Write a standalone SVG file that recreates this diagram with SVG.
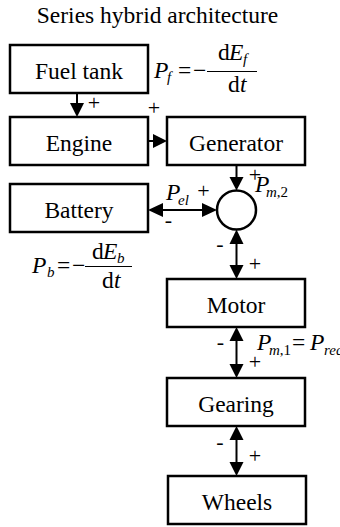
<svg xmlns="http://www.w3.org/2000/svg" width="340" height="527" viewBox="0 0 340 527" font-family="'Liberation Serif', 'Times New Roman', 'DejaVu Serif', serif">
<style>
text, tspan{font-family:'Liberation Serif','Times New Roman','DejaVu Serif',serif;fill:#000}
.box{fill:#fff;stroke:#000;stroke-width:2.5}
.lbl{font-size:23.5px;text-anchor:middle}
.sg{font-size:22px;text-anchor:middle}
.m{font-size:23.5px}
.i{font-style:italic}
.s{font-size:15px}
.ln{stroke:#000;stroke-width:2;fill:none}
.fr{stroke:#000;stroke-width:1.2;fill:none}
.ah{fill:#000;stroke:none}
</style>
<rect width="340" height="527" fill="#fff"/>
<text class="lbl" x="157.5" y="23">Series hybrid architecture</text>

<g id="fuel-tank"><rect class="box" x="10" y="45" width="138" height="48"/><text class="lbl" x="79" y="78.5">Fuel tank</text></g>
<g id="engine"><rect class="box" x="10" y="117" width="138" height="48"/><text class="lbl" x="79" y="150.5">Engine</text></g>
<g id="generator"><rect class="box" x="167" y="117" width="138" height="48"/><text class="lbl" x="236" y="150.5">Generator</text></g>
<g id="battery"><rect class="box" x="10" y="184" width="138" height="48"/><text class="lbl" x="79" y="217.5">Battery</text></g>
<g id="junction"><circle class="box" cx="236.5" cy="210" r="19.5"/></g>
<g id="motor"><rect class="box" x="167" y="279" width="138" height="48"/><text class="lbl" x="236" y="312.5">Motor</text></g>
<g id="gearing"><rect class="box" x="167" y="378" width="138" height="48"/><text class="lbl" x="236" y="411.5">Gearing</text></g>
<g id="wheels"><rect class="box" x="168" y="476" width="138" height="48"/><text class="lbl" x="237" y="509.5">Wheels</text></g>

<g id="connectors">
<line class="ln" x1="77" y1="93" x2="77" y2="104"/>
<polygon class="ah" points="77,117 70,103 84,103"/>
<line class="ln" x1="148" y1="141" x2="154" y2="141"/>
<polygon class="ah" points="167,141 153,134 153,148"/>
<line class="ln" x1="236.5" y1="165" x2="236.5" y2="178"/>
<polygon class="ah" points="236.5,190.5 229.5,177 243.5,177"/>
<line class="ln" x1="162" y1="210" x2="203" y2="210"/>
<polygon class="ah" points="148,210 163,203 163,217"/>
<polygon class="ah" points="217,210 202,203 202,217"/>
<line class="ln" x1="236.5" y1="243" x2="236.5" y2="266"/>
<polygon class="ah" points="236.5,229.5 229.5,244 243.5,244"/>
<polygon class="ah" points="236.5,279 229.5,265 243.5,265"/>
<line class="ln" x1="236.5" y1="340" x2="236.5" y2="365"/>
<polygon class="ah" points="236.5,327 229.5,341 243.5,341"/>
<polygon class="ah" points="236.5,378 229.5,364 243.5,364"/>
<line class="ln" x1="236.5" y1="439" x2="236.5" y2="463"/>
<polygon class="ah" points="236.5,426 229.5,440 243.5,440"/>
<polygon class="ah" points="236.5,476 229.5,462 243.5,462"/>
<text class="sg" x="94" y="109.5">+</text>
<text class="sg" x="154" y="114.5">+</text>
<text class="sg" x="255" y="181.5">+</text>
<text class="sg" x="203.5" y="197.5">+</text>
<text class="sg" x="168.5" y="226.5">-</text>
<text class="sg" x="220" y="250.5">-</text>
<text class="sg" x="255" y="270.5">+</text>
<text class="sg" x="220.5" y="348.5">-</text>
<text class="sg" x="255" y="368.5">+</text>
<text class="sg" x="220" y="448.5">-</text>
<text class="sg" x="255" y="462.5">+</text>
<text class="m"><tspan class="i" x="255" y="192">P</tspan><tspan class="s" x="266" y="197"><tspan class="i">m</tspan>,2</tspan></text>
<text class="m"><tspan class="i" x="166" y="200">P</tspan><tspan class="s i" x="178" y="205">el</tspan></text>
<text class="m"><tspan class="i" x="257" y="350">P</tspan><tspan class="s" x="269" y="355"><tspan class="i">m</tspan>,1</tspan><tspan x="292" y="350">=</tspan><tspan class="i" x="310" y="350">P</tspan><tspan class="s i" x="324" y="355">req</tspan></text>
</g>

<g id="formula-fuel">
<text class="m"><tspan class="i" x="154" y="78">P</tspan><tspan class="s i" x="167" y="82">f</tspan><tspan x="178" y="78">=</tspan><tspan x="193" y="78">−</tspan><tspan x="218" y="60">d</tspan><tspan class="i" x="229" y="60">E</tspan><tspan class="s i" x="243" y="64">f</tspan><tspan x="228" y="92">d</tspan><tspan class="i" x="240" y="92">t</tspan></text>
<line class="fr" x1="207" y1="71.5" x2="257" y2="71.5"/>
</g>
<g id="formula-battery">
<text class="m"><tspan class="i" x="32" y="273">P</tspan><tspan class="s i" x="47" y="277">b</tspan><tspan x="57" y="273">=</tspan><tspan x="72" y="273">−</tspan><tspan x="92" y="259">d</tspan><tspan class="i" x="103" y="259">E</tspan><tspan class="s i" x="117" y="263">b</tspan><tspan x="102" y="288">d</tspan><tspan class="i" x="114" y="288">t</tspan></text>
<line class="fr" x1="85" y1="266.5" x2="132" y2="266.5"/>
</g>
</svg>
